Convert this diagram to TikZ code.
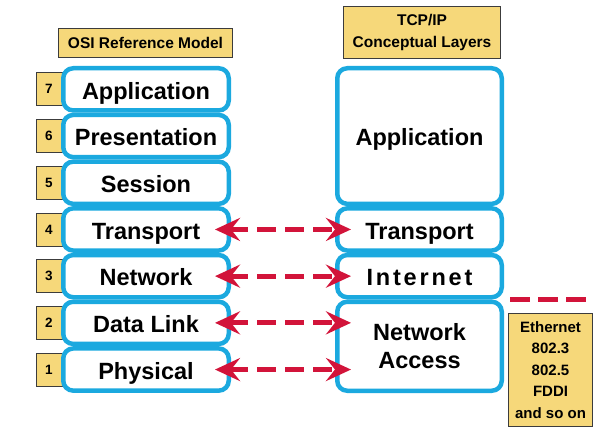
\documentclass[tikz,border=0pt]{standalone}
\usepackage{fontspec}
\setmainfont{Liberation Sans}
\usetikzlibrary{arrows.meta}
\definecolor{layerblue}{RGB}{27,169,223}
\definecolor{titleyellow}{RGB}{246,216,122}
\definecolor{arrowred}{RGB}{210,20,58}
\definecolor{edgegray}{RGB}{60,60,60}
\begin{document}
\begin{tikzpicture}[x=1pt,y=-1pt,
 layer/.style={draw=layerblue, line width=4.5pt, fill=white, rounded corners=10pt, inner sep=0pt, font=\fontsize{23.5}{27.5}\selectfont\bfseries, text=black, align=center},
 oneline/.style={text height=19.5pt, text depth=0pt},
 osilayer/.style={layer, oneline, minimum width=165.5pt, minimum height=42.2pt},
 tcplayer/.style={layer, minimum width=164.5pt},
 numbox/.style={draw=edgegray, line width=0.8pt, fill=titleyellow, minimum width=26pt, minimum height=33pt, font=\fontsize{13.5}{15}\selectfont\bfseries, inner sep=0pt},
 titlebox/.style={draw=edgegray, line width=0.8pt, fill=titleyellow, inner sep=0pt, align=center, font=\fontsize{15.5}{21.5}\selectfont\bfseries},
 link/.style={draw=arrowred, line width=5pt, dash pattern=on 19pt off 9pt, {Stealth[length=25pt,width=23pt,inset=9pt]}-{Stealth[length=25pt,width=23pt,inset=9pt]}},
 sep/.style={draw=arrowred, line width=5pt, dash pattern=on 20pt off 8pt},
]
\useasboundingbox (0,0) rectangle (602,430);

% titles
\node[titlebox, minimum width=174pt, minimum height=29pt] (osititle) at (145.5,43) {OSI Reference Model};
\node[titlebox, minimum width=157pt, minimum height=52pt] (tcptitle) at (422,32.5) {TCP/IP\\Conceptual Layers};

% number boxes
\node[numbox] (n7) at (49,89.35) {7};
\node[numbox] (n6) at (49,136.05) {6};
\node[numbox] (n5) at (49,182.75) {5};
\node[numbox] (n4) at (49,229.45) {4};
\node[numbox] (n3) at (49,276.15) {3};
\node[numbox] (n2) at (49,322.85) {2};
\node[numbox] (n1) at (49,369.55) {1};

% OSI layers
\node[osilayer] (osi7) at (146,89.35) {Application};
\node[osilayer] (osi6) at (146,136.05) {Presentation};
\node[osilayer] (osi5) at (146,182.75) {Session};
\node[osilayer] (osi4) at (146,229.45) {Transport};
\node[osilayer] (osi3) at (146,276.15) {Network};
\node[osilayer] (osi2) at (146,322.85) {Data Link};
\node[osilayer] (osi1) at (146,369.55) {Physical};

% TCP/IP layers
\node[tcplayer, oneline, minimum height=135.6pt] (tcpapp) at (419.5,136.05) {Application};
\node[tcplayer, oneline, minimum height=42.2pt] (tcptr) at (419.5,229.45) {Transport};
\node[tcplayer, oneline, minimum height=42.2pt] (tcpin) at (419.5,276.15) {\addfontfeatures{LetterSpace=12}Internet};
\node[tcplayer, minimum height=89pt] (tcpna) at (419.5,346.25) {Network\\Access};

% Ethernet box
\node[titlebox, minimum width=84pt, minimum height=113pt, font=\fontsize{15}{21.5}\selectfont\bfseries] (eth) at (550.5,370) {Ethernet\\802.3\\802.5\\FDDI\\and so on};

% separator dashes
\coordinate (d1) at (510,299);
\coordinate (d2) at (586,299);
\draw[sep] (d1) -- (d2);

% arrows
\coordinate (na2) at (osi2.east -| tcpna.west);
\coordinate (na1) at (osi1.east -| tcpna.west);
\draw[link] ([xshift=-16pt]osi4.east) -- ([xshift=16pt]tcptr.west);
\draw[link] ([xshift=-16pt]osi3.east) -- ([xshift=16pt]tcpin.west);
\draw[link] ([xshift=-16pt]osi2.east) -- ([xshift=16pt]na2);
\draw[link] ([xshift=-16pt]osi1.east) -- ([xshift=16pt]na1);
\end{tikzpicture}
\end{document}
